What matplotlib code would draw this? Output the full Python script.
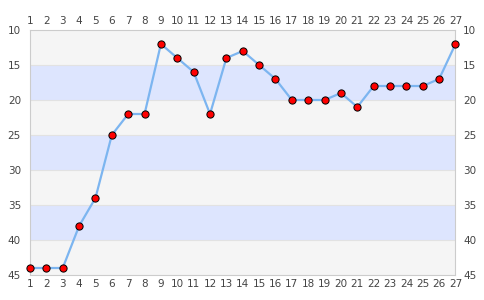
import matplotlib
matplotlib.use("Agg")
import matplotlib.pyplot as plt

x = list(range(1, 28))
rank = [44, 44, 44, 38, 34, 25, 22, 22, 12, 14, 16, 22, 14, 13, 15, 17, 20, 20, 20, 19, 21, 18, 18, 18, 18, 17, 12]
yticks = [10, 15, 20, 25, 30, 35, 40, 45]

fig = plt.figure(figsize=(4.85, 3.0), dpi=100)
ax = fig.add_axes([30/485, 25/300, 425.5/485, 245/300])

band_colors = ['#f5f5f5', '#dde5fe']
for i in range(7):
    lo = 10 + 5*i
    ax.axhspan(lo, lo+5, color=band_colors[i % 2], zorder=0, lw=0)
for yv in yticks[1:-1]:
    ax.axhline(yv, color='#e2e2e2', lw=0.8, zorder=0.5)

ax.plot(x, rank, color='#7cb5f0', lw=1.6, zorder=2, clip_on=False)
ax.plot(x, rank, 'o', ms=5.2, mfc='#ff0000', mec='#000000', mew=0.7, zorder=3, clip_on=False)

ax.set_xlim(1, 27)
ax.set_ylim(45, 10)
ax.set_xticks(x)
ax.set_yticks(yticks)
ax.tick_params(axis='both', length=0, labelsize=7.5, labelcolor='#444444')
ax.tick_params(axis='x', top=True, labeltop=True, bottom=True, labelbottom=True, pad=3)
ax.tick_params(axis='y', left=True, labelleft=True, right=False, labelright=False, pad=6.5)
ax2 = ax.secondary_yaxis('right')
ax2.set_yticks(yticks)
ax2.tick_params(axis='y', length=0, labelsize=7.5, labelcolor='#444444', pad=5.4)
ax2.spines['right'].set_visible(False)
for s in ax.spines.values():
    s.set_color('#cccccc')
    s.set_linewidth(0.8)

fig.savefig('out.png', dpi=100)
